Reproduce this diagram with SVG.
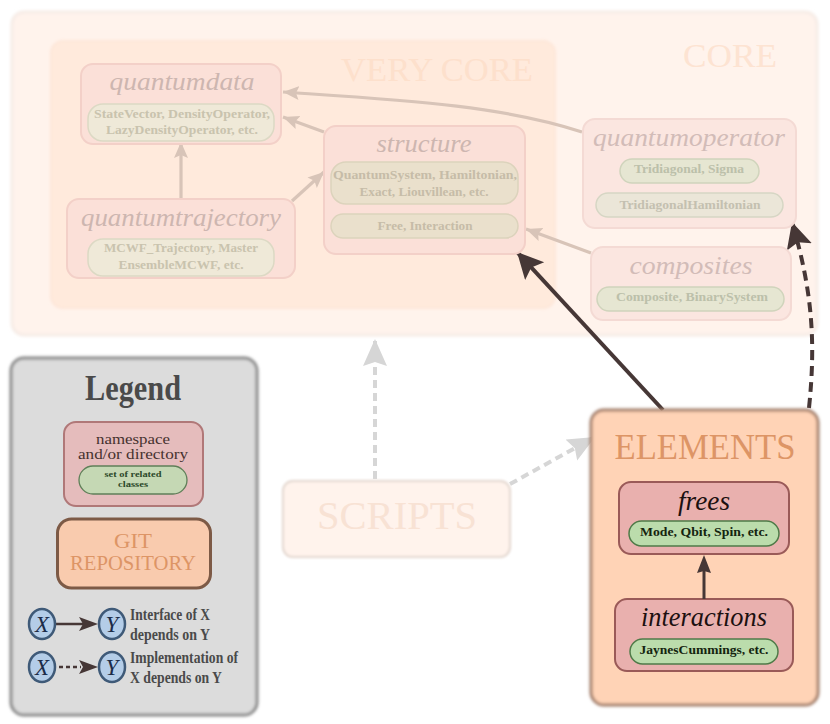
<svg xmlns="http://www.w3.org/2000/svg" width="830" height="724" viewBox="0 0 830 724">
<style>
text{font-family:"Liberation Serif",serif;text-anchor:middle}
.ns{fill:#e9b0ae;stroke:#9a5a58;stroke-width:2}
.cl{fill:#bbdcac;stroke:#4f7a48;stroke-width:1.5}
.t{font-style:italic;fill:#1c1010}
.s{font-weight:bold;fill:#14240f;font-size:12px}
.cap{fill:#dd9566}
.dk{fill:none;stroke:#463736;stroke-width:4}
.lt{fill:none;stroke:#d8c4b8;stroke-width:3.2}
.g{fill:none;stroke:#d6d6d6;stroke-width:4;stroke-dasharray:8 5}
.lg{fill:#4a4a4a;font-weight:bold}
.c{fill:#b4cde8;stroke:#3f5a78;stroke-width:2.5}
.cx{fill:#1c2c48;font-style:italic;font-size:23px}
</style>
<defs>
<filter id="b" x="-5%" y="-5%" width="110%" height="110%"><feGaussianBlur stdDeviation="1.8"/></filter>
<filter id="bl" x="-5%" y="-5%" width="110%" height="110%"><feGaussianBlur stdDeviation="1"/></filter>
<marker id="md" markerUnits="userSpaceOnUse" markerWidth="30" markerHeight="28" refX="26" refY="13" orient="auto"><path d="M0 0L26 13L0 26L5 13Z" fill="#463736"/></marker>
<marker id="ms" markerUnits="userSpaceOnUse" markerWidth="20" markerHeight="16" refX="16" refY="8" orient="auto"><path d="M0 1L16 8L0 15L3 8Z" fill="#d8c4b8"/></marker>
<marker id="mg" markerUnits="userSpaceOnUse" markerWidth="30" markerHeight="26" refX="27" refY="12" orient="auto"><path d="M0 0L27 12L0 24L4 12Z" fill="#d6d6d6"/></marker>
</defs>
<rect width="830" height="724" fill="#fff"/>
<g id="core">
<rect x="12" y="12" width="805" height="323" rx="12" fill="#fff3ec" stroke="#f6ece6" stroke-width="3" filter="url(#b)"/>
<text x="730" y="67" font-size="33" fill="#fde3d2" textLength="94" lengthAdjust="spacingAndGlyphs">CORE</text>
</g>
<g id="very-core">
<rect x="51" y="41" width="504" height="267" rx="12" fill="#ffeadc" stroke="#fde6d8" stroke-width="2" filter="url(#b)"/>
<text x="437" y="81" font-size="33" fill="#fde0cc" textLength="192" lengthAdjust="spacingAndGlyphs">VERY CORE</text>
</g>
<g id="connectors">
<path class="lt" marker-end="url(#ms)" d="M582 132C500 105 400 100 283 92"/>
<path class="lt" marker-end="url(#ms)" d="M324 132L283 117"/>
<path class="lt" marker-end="url(#ms)" d="M181 198V142"/>
<path class="lt" marker-end="url(#ms)" d="M292 201L324 172"/>
<path class="lt" marker-end="url(#ms)" d="M591 253L526 229"/>
<path class="dk" marker-end="url(#md)" d="M663 410L517 252"/>
<path class="dk" stroke-dasharray="10 6" marker-end="url(#md)" d="M809 408C816 340 812 290 792 222"/>
<path class="g" marker-end="url(#mg)" d="M375 479V339"/>
<path class="g" marker-end="url(#mg)" d="M510 484L595 437"/>
</g>
<g id="quantumdata">
<rect x="81" y="64" width="200" height="80" rx="12" fill="#fbe0d8" stroke="#f3d0c8" stroke-width="2"/>
<text x="182" y="90" font-size="25" font-style="italic" fill="#cdb6b0" textLength="145" lengthAdjust="spacingAndGlyphs">quantumdata</text>
<rect x="88" y="104" width="186" height="37" rx="15" fill="#efe9d8" stroke="#dcd9c4" stroke-width="1.5"/>
<text x="182" y="118" font-size="12" font-weight="bold" fill="#c9c3ae" textLength="176" lengthAdjust="spacingAndGlyphs">StateVector, DensityOperator,</text>
<text x="182" y="134" font-size="12" font-weight="bold" fill="#c9c3ae" textLength="152" lengthAdjust="spacingAndGlyphs">LazyDensityOperator, etc.</text>
</g>
<g id="quantumtrajectory">
<rect x="67" y="199" width="228" height="79" rx="12" fill="#fbe0d8" stroke="#f3d0c8" stroke-width="2"/>
<text x="181" y="226" font-size="25" font-style="italic" fill="#cdb6b0" textLength="200" lengthAdjust="spacingAndGlyphs">quantumtrajectory</text>
<rect x="88" y="239" width="186" height="37" rx="15" fill="#efe9d8" stroke="#dcd9c4" stroke-width="1.5"/>
<text x="181" y="252" font-size="12" font-weight="bold" fill="#c9c3ae" textLength="154" lengthAdjust="spacingAndGlyphs">MCWF_Trajectory, Master</text>
<text x="181" y="269" font-size="12" font-weight="bold" fill="#c9c3ae" textLength="125" lengthAdjust="spacingAndGlyphs">EnsembleMCWF, etc.</text>
</g>
<g id="structure">
<rect x="324" y="126" width="201" height="128" rx="12" fill="#fbe0d8" stroke="#f3d0c8" stroke-width="2"/>
<text x="424" y="152" font-size="25" font-style="italic" fill="#cdb6b0" textLength="95" lengthAdjust="spacingAndGlyphs">structure</text>
<rect x="331" y="162" width="187" height="42" rx="15" fill="#eae0cc" stroke="#dcd3bc" stroke-width="1.5"/>
<text x="425" y="179" font-size="12" font-weight="bold" fill="#c6bca8" textLength="184" lengthAdjust="spacingAndGlyphs">QuantumSystem, Hamiltonian,</text>
<text x="424" y="196" font-size="12" font-weight="bold" fill="#c6bca8" textLength="129" lengthAdjust="spacingAndGlyphs">Exact, Liouvillean, etc.</text>
<rect x="331" y="214" width="187" height="24" rx="12" fill="#eae0cc" stroke="#dcd3bc" stroke-width="1.5"/>
<text x="425" y="230" font-size="12" font-weight="bold" fill="#c6bca8" textLength="95" lengthAdjust="spacingAndGlyphs">Free, Interaction</text>
</g>
<g id="quantumoperator">
<rect x="583" y="119" width="213" height="109" rx="12" fill="#fbe6e0" stroke="#f4dad4" stroke-width="2"/>
<text x="689" y="146" font-size="25" font-style="italic" fill="#d2bcb8" textLength="192" lengthAdjust="spacingAndGlyphs">quantumoperator</text>
<rect x="620" y="159" width="139" height="24" rx="12" fill="#e6e6d2" stroke="#d0d4bc" stroke-width="1.5"/>
<text x="689" y="173" font-size="12" font-weight="bold" fill="#bcc0aa" textLength="110" lengthAdjust="spacingAndGlyphs">Tridiagonal, Sigma</text>
<rect x="596" y="193" width="187" height="24" rx="12" fill="#ebe6d8" stroke="#d6d6c4" stroke-width="1.5"/>
<text x="690" y="209" font-size="12" font-weight="bold" fill="#c4c0b0" textLength="141" lengthAdjust="spacingAndGlyphs">TridiagonalHamiltonian</text>
</g>
<g id="composites">
<rect x="591" y="247" width="200" height="73" rx="12" fill="#fbe6e0" stroke="#f4dad4" stroke-width="2"/>
<text x="691" y="274" font-size="25" font-style="italic" fill="#d2bcb8" textLength="123" lengthAdjust="spacingAndGlyphs">composites</text>
<rect x="597" y="287" width="187" height="24" rx="12" fill="#e6e6d2" stroke="#d0d4bc" stroke-width="1.5"/>
<text x="692" y="301" font-size="12" font-weight="bold" fill="#bcc0aa" textLength="152" lengthAdjust="spacingAndGlyphs">Composite, BinarySystem</text>
</g>
<g id="scripts">
<rect x="283" y="481" width="227" height="76" rx="10" fill="#fff3ec" stroke="#e8ddd6" stroke-width="2.5" filter="url(#bl)"/>
<text x="397" y="529" font-size="40" fill="#f8e2d4" textLength="160" lengthAdjust="spacingAndGlyphs">SCRIPTS</text>
</g>
<g id="elements">
<rect x="591" y="410" width="227" height="295" rx="13" fill="#ffd3b6" stroke="#a07a66" stroke-width="3" filter="url(#b)"/>
<text x="705" y="459" font-size="35" class="cap" textLength="181" lengthAdjust="spacingAndGlyphs">ELEMENTS</text>
</g>
<g id="frees">
<rect x="619" y="482" width="170" height="72" rx="12" class="ns"/>
<text x="704" y="510" font-size="27" class="t" textLength="52" lengthAdjust="spacingAndGlyphs">frees</text>
<rect x="629" y="521" width="150" height="25" rx="12.5" class="cl"/>
<text x="704" y="536" class="s" textLength="128" lengthAdjust="spacingAndGlyphs">Mode, Qbit, Spin, etc.</text>
</g>
<g id="interactions">
<rect x="615" y="599" width="178" height="72" rx="12" class="ns"/>
<text x="704" y="626" font-size="27" class="t" textLength="126" lengthAdjust="spacingAndGlyphs">interactions</text>
<rect x="630" y="639" width="148" height="25" rx="12.5" class="cl"/>
<text x="704" y="654" class="s" textLength="129" lengthAdjust="spacingAndGlyphs">JaynesCummings, etc.</text>
</g>
<g id="inner-connector"><path d="M704 599V570" fill="none" stroke="#463736" stroke-width="3"/><path d="M704 555L711 573L704 571L697 573Z" fill="#463736"/></g>
<g id="legend">
<rect x="11" y="358" width="246" height="357" rx="13" fill="#dcdcdc" stroke="#858585" stroke-width="3" filter="url(#b)"/>
<text x="133" y="400" font-size="36" class="lg" textLength="96" lengthAdjust="spacingAndGlyphs">Legend</text>
<rect x="64" y="422" width="139" height="84" rx="12" fill="#e5bcbc" stroke="#b07878" stroke-width="2"/>
<text x="133" y="444" font-size="14" fill="#46322f" textLength="74" lengthAdjust="spacingAndGlyphs">namespace</text>
<text x="133" y="459" font-size="14" fill="#46322f" textLength="110" lengthAdjust="spacingAndGlyphs">and/or directory</text>
<rect x="79" y="466" width="108" height="28" rx="14" fill="#c5d8b4" stroke="#5f7f58" stroke-width="1.3"/>
<text x="133" y="477" font-size="9" font-weight="bold" fill="#2d4a2a" textLength="57" lengthAdjust="spacingAndGlyphs">set of related</text>
<text x="133" y="487" font-size="9" font-weight="bold" fill="#2d4a2a" textLength="30" lengthAdjust="spacingAndGlyphs">classes</text>
<rect x="57.500" y="519" width="153" height="69" rx="14" fill="#f9cbae" stroke="#7d5a46" stroke-width="3"/>
<text x="133" y="548" font-size="21" class="cap" textLength="38" lengthAdjust="spacingAndGlyphs">GIT</text>
<text x="133" y="570" font-size="21" class="cap" textLength="126" lengthAdjust="spacingAndGlyphs">REPOSITORY</text>
<path d="M56 624H85" stroke="#463736" stroke-width="2.500" fill="none"/><path d="M98 624L79 617L83 624L79 631Z" fill="#463736"/>
<path d="M59 667H81" stroke="#463736" stroke-width="2.500" stroke-dasharray="4 3" fill="none"/><path d="M98 667L79 660L83 667L79 674Z" fill="#463736"/>
<ellipse cx="42" cy="624" rx="13" ry="15" class="c"/><text x="42" y="632" class="cx">X</text>
<ellipse cx="112" cy="624" rx="13" ry="15" class="c"/><text x="112" y="632" class="cx">Y</text>
<ellipse cx="42" cy="667" rx="13" ry="15" class="c"/><text x="42" y="675" class="cx">X</text>
<ellipse cx="112" cy="667" rx="13" ry="15" class="c"/><text x="112" y="675" class="cx">Y</text>
<g font-size="16" font-weight="bold" fill="#4a4a4a">
<text x="170" y="620" textLength="80" lengthAdjust="spacingAndGlyphs">Interface of X</text>
<text x="170" y="640" textLength="80" lengthAdjust="spacingAndGlyphs">depends on Y</text>
<text x="184" y="663" textLength="108" lengthAdjust="spacingAndGlyphs">Implementation of</text>
<text x="176" y="683" textLength="92" lengthAdjust="spacingAndGlyphs">X depends on Y</text>
</g>
</g>
</svg>
